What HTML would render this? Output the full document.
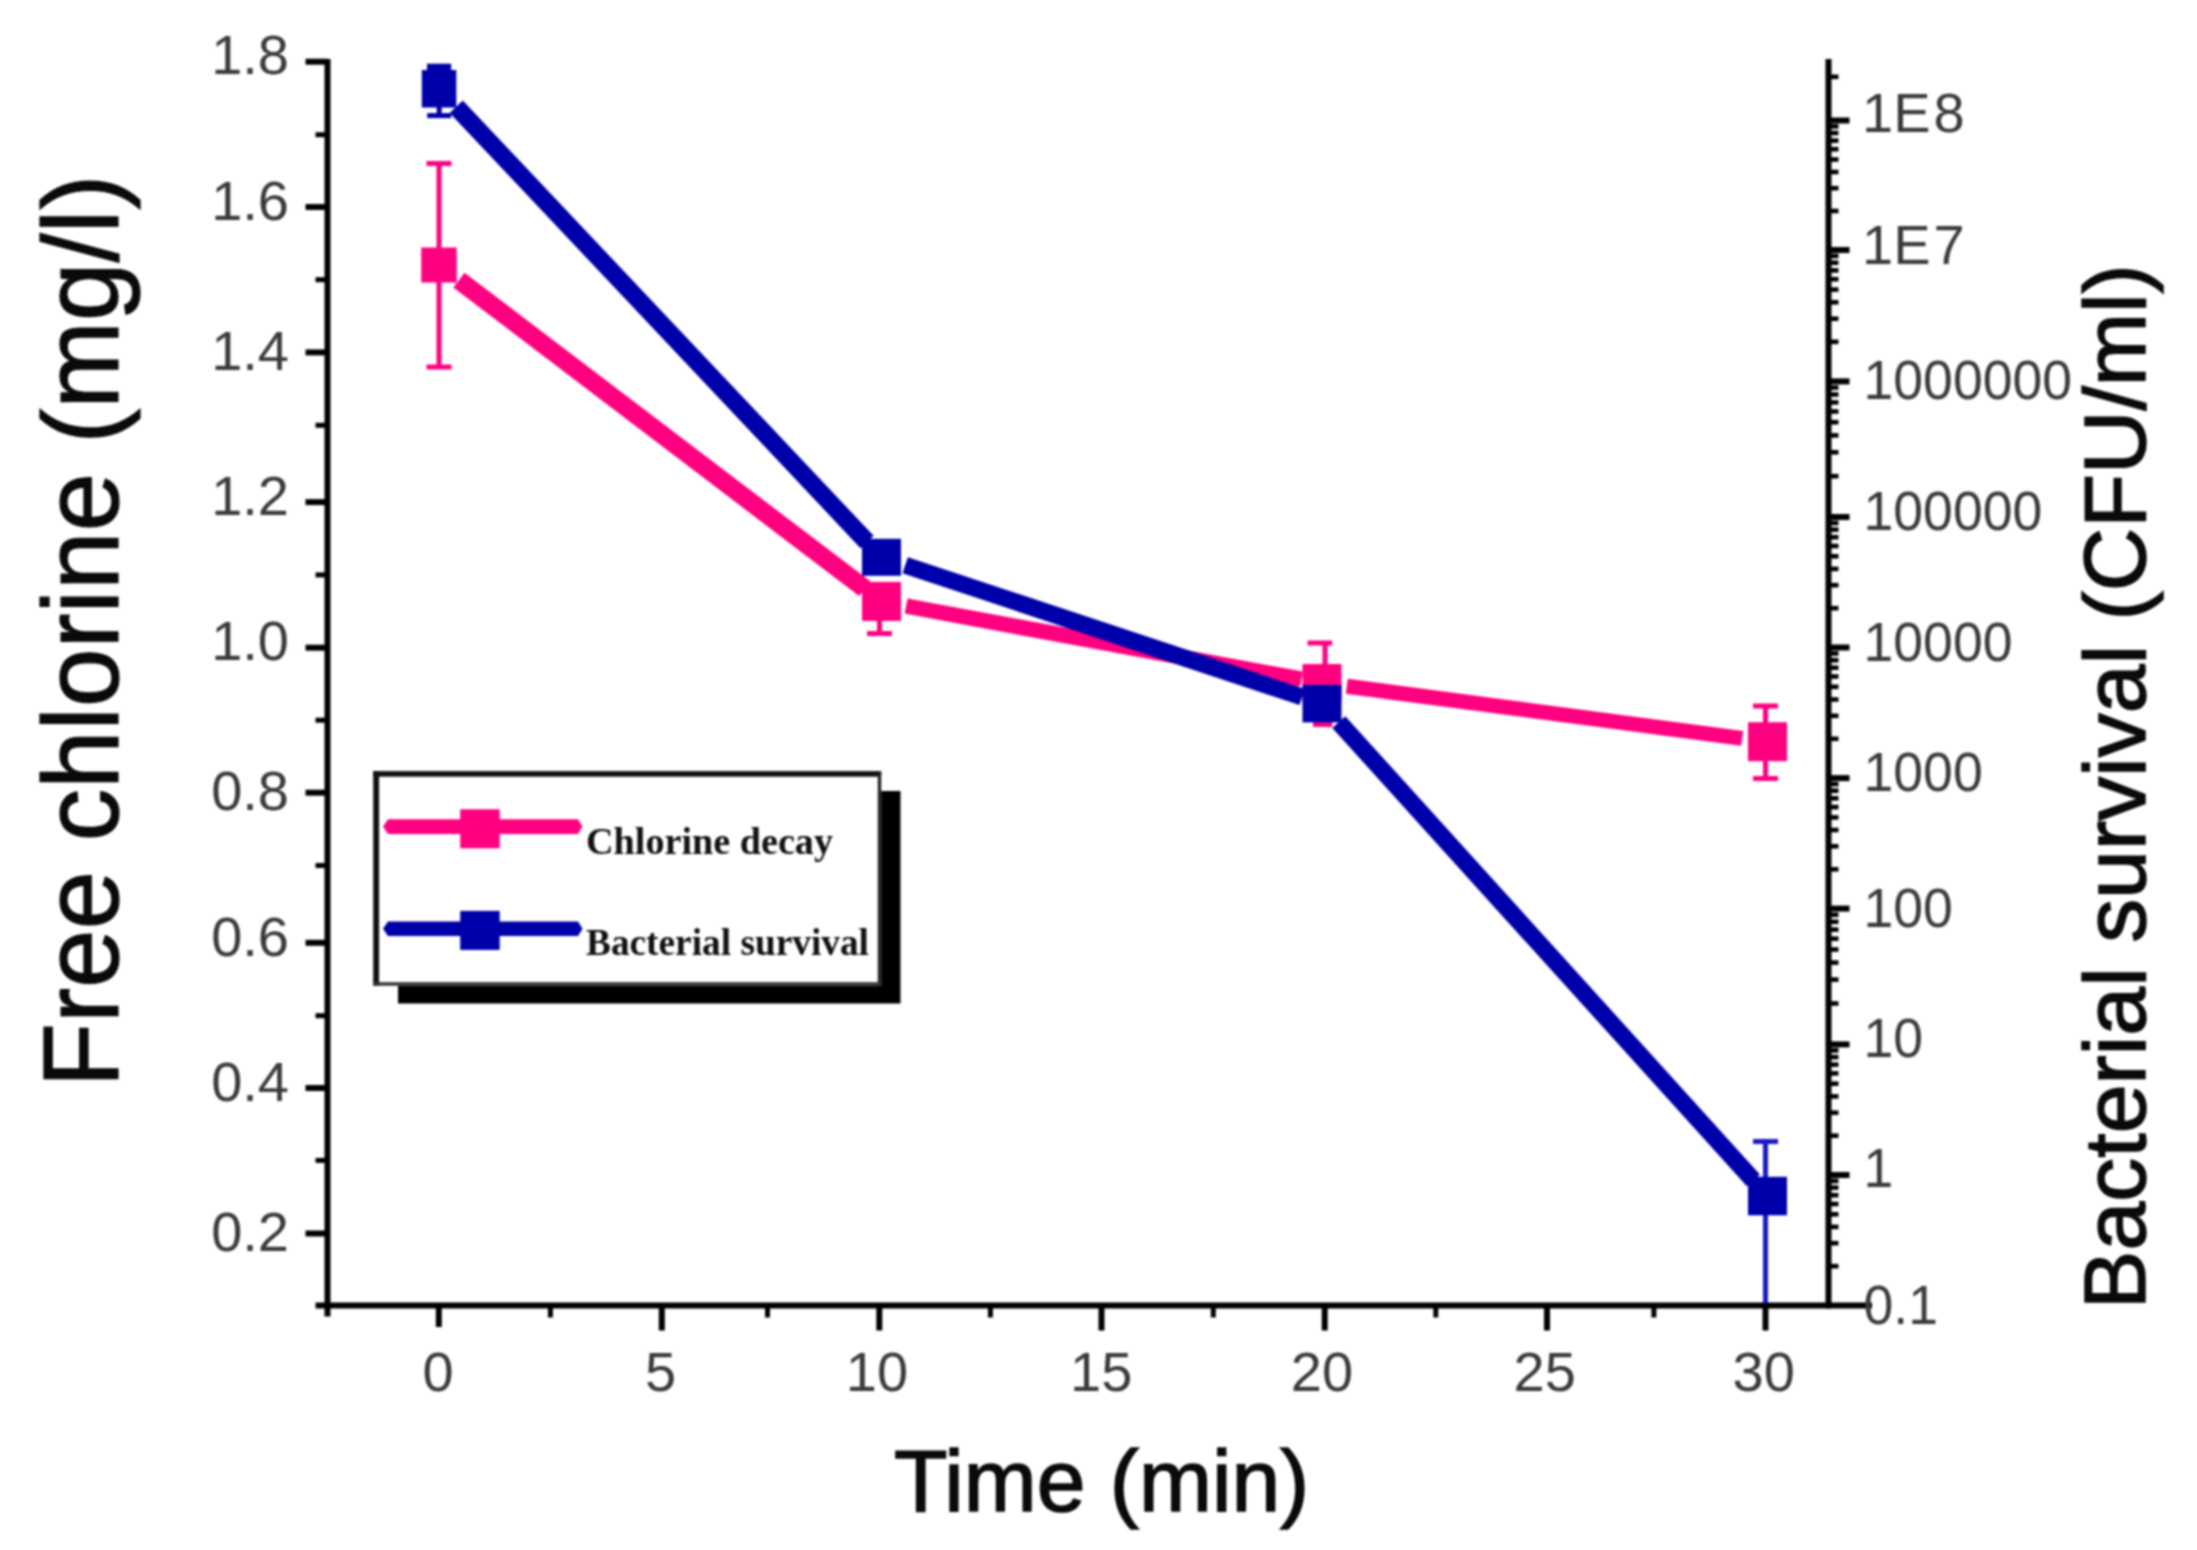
<!DOCTYPE html>
<html lang="en"><head><meta charset="utf-8"><title>Free chlorine decay and bacterial survival</title>
<style>
html,body{margin:0;padding:0;background:#fff;}
body{width:2197px;height:1550px;overflow:hidden;}
svg{display:block;filter:blur(1px);}
text{font-family:"Liberation Sans",sans-serif;}
.tl{font-size:56px;fill:#3a3a3a;}
.leg{font-family:"Liberation Serif",serif;font-weight:bold;font-size:38px;fill:#111;}
</style></head><body>
<svg width="2197" height="1550" viewBox="0 0 2197 1550">
<rect width="2197" height="1550" fill="#fff"/>

<g stroke="#000" stroke-width="6" fill="none" stroke-linecap="butt">
<line x1="327.5" y1="59" x2="327.5" y2="1316.5"/>
<line x1="1828.5" y1="59" x2="1828.5" y2="1308.5"/>
<line x1="315.5" y1="1305.5" x2="1872" y2="1305.5"/>
</g>
<g stroke="#000" fill="none">
<line x1="305.5" y1="61.7" x2="327.5" y2="61.7" stroke-width="6"/>
<line x1="305.5" y1="207.0" x2="327.5" y2="207.0" stroke-width="6"/>
<line x1="305.5" y1="352.4" x2="327.5" y2="352.4" stroke-width="6"/>
<line x1="305.5" y1="502.1" x2="327.5" y2="502.1" stroke-width="6"/>
<line x1="305.5" y1="647.7" x2="327.5" y2="647.7" stroke-width="6"/>
<line x1="305.5" y1="792.7" x2="327.5" y2="792.7" stroke-width="6"/>
<line x1="305.5" y1="942.8" x2="327.5" y2="942.8" stroke-width="6"/>
<line x1="305.5" y1="1088.0" x2="327.5" y2="1088.0" stroke-width="6"/>
<line x1="305.5" y1="1233.5" x2="327.5" y2="1233.5" stroke-width="6"/>
<line x1="315.5" y1="134.7" x2="327.5" y2="134.7" stroke-width="5"/>
<line x1="315.5" y1="279.7" x2="327.5" y2="279.7" stroke-width="5"/>
<line x1="315.5" y1="425.3" x2="327.5" y2="425.3" stroke-width="5"/>
<line x1="315.5" y1="574.9" x2="327.5" y2="574.9" stroke-width="5"/>
<line x1="315.5" y1="720.2" x2="327.5" y2="720.2" stroke-width="5"/>
<line x1="315.5" y1="865.5" x2="327.5" y2="865.5" stroke-width="5"/>
<line x1="315.5" y1="1015.7" x2="327.5" y2="1015.7" stroke-width="5"/>
<line x1="315.5" y1="1160.4" x2="327.5" y2="1160.4" stroke-width="5"/>
<line x1="438.8" y1="1305.5" x2="438.8" y2="1327.0" stroke-width="6"/>
<line x1="661.8" y1="1305.5" x2="661.8" y2="1330.5" stroke-width="6"/>
<line x1="879.3" y1="1305.5" x2="879.3" y2="1330.5" stroke-width="6"/>
<line x1="1101.5" y1="1305.5" x2="1101.5" y2="1330.5" stroke-width="6"/>
<line x1="1324.7" y1="1305.5" x2="1324.7" y2="1330.5" stroke-width="6"/>
<line x1="1547.0" y1="1305.5" x2="1547.0" y2="1330.5" stroke-width="6"/>
<line x1="1765.5" y1="1305.5" x2="1765.5" y2="1330.5" stroke-width="6"/>
<line x1="550.4" y1="1305.5" x2="550.4" y2="1317.5" stroke-width="5"/>
<line x1="767.5" y1="1305.5" x2="767.5" y2="1317.5" stroke-width="5"/>
<line x1="990.4" y1="1305.5" x2="990.4" y2="1317.5" stroke-width="5"/>
<line x1="1213.3" y1="1305.5" x2="1213.3" y2="1317.5" stroke-width="5"/>
<line x1="1435.8" y1="1305.5" x2="1435.8" y2="1317.5" stroke-width="5"/>
<line x1="1653.9" y1="1305.5" x2="1653.9" y2="1317.5" stroke-width="5"/>
<line x1="1828.5" y1="1175.0" x2="1849.5" y2="1175.0" stroke-width="6"/>
<line x1="1828.5" y1="1044.4" x2="1849.5" y2="1044.4" stroke-width="6"/>
<line x1="1828.5" y1="908.6" x2="1849.5" y2="908.6" stroke-width="6"/>
<line x1="1828.5" y1="778.1" x2="1849.5" y2="778.1" stroke-width="6"/>
<line x1="1828.5" y1="647.5" x2="1849.5" y2="647.5" stroke-width="6"/>
<line x1="1828.5" y1="517.0" x2="1849.5" y2="517.0" stroke-width="6"/>
<line x1="1828.5" y1="381.4" x2="1849.5" y2="381.4" stroke-width="6"/>
<line x1="1828.5" y1="250.0" x2="1849.5" y2="250.0" stroke-width="6"/>
<line x1="1828.5" y1="120.5" x2="1849.5" y2="120.5" stroke-width="6"/>
<line x1="1828.5" y1="1266.2" x2="1838.5" y2="1266.2" stroke-width="4.6"/>
<line x1="1828.5" y1="1243.2" x2="1838.5" y2="1243.2" stroke-width="4.6"/>
<line x1="1828.5" y1="1226.9" x2="1838.5" y2="1226.9" stroke-width="4.6"/>
<line x1="1828.5" y1="1214.3" x2="1838.5" y2="1214.3" stroke-width="4.6"/>
<line x1="1828.5" y1="1204.0" x2="1838.5" y2="1204.0" stroke-width="4.6"/>
<line x1="1828.5" y1="1195.2" x2="1838.5" y2="1195.2" stroke-width="4.6"/>
<line x1="1828.5" y1="1187.6" x2="1838.5" y2="1187.6" stroke-width="4.6"/>
<line x1="1828.5" y1="1181.0" x2="1838.5" y2="1181.0" stroke-width="4.6"/>
<line x1="1828.5" y1="1135.7" x2="1838.5" y2="1135.7" stroke-width="4.6"/>
<line x1="1828.5" y1="1112.7" x2="1838.5" y2="1112.7" stroke-width="4.6"/>
<line x1="1828.5" y1="1096.4" x2="1838.5" y2="1096.4" stroke-width="4.6"/>
<line x1="1828.5" y1="1083.7" x2="1838.5" y2="1083.7" stroke-width="4.6"/>
<line x1="1828.5" y1="1073.4" x2="1838.5" y2="1073.4" stroke-width="4.6"/>
<line x1="1828.5" y1="1064.6" x2="1838.5" y2="1064.6" stroke-width="4.6"/>
<line x1="1828.5" y1="1057.1" x2="1838.5" y2="1057.1" stroke-width="4.6"/>
<line x1="1828.5" y1="1050.4" x2="1838.5" y2="1050.4" stroke-width="4.6"/>
<line x1="1828.5" y1="1003.5" x2="1838.5" y2="1003.5" stroke-width="4.6"/>
<line x1="1828.5" y1="979.6" x2="1838.5" y2="979.6" stroke-width="4.6"/>
<line x1="1828.5" y1="962.6" x2="1838.5" y2="962.6" stroke-width="4.6"/>
<line x1="1828.5" y1="949.5" x2="1838.5" y2="949.5" stroke-width="4.6"/>
<line x1="1828.5" y1="938.7" x2="1838.5" y2="938.7" stroke-width="4.6"/>
<line x1="1828.5" y1="929.6" x2="1838.5" y2="929.6" stroke-width="4.6"/>
<line x1="1828.5" y1="921.8" x2="1838.5" y2="921.8" stroke-width="4.6"/>
<line x1="1828.5" y1="914.8" x2="1838.5" y2="914.8" stroke-width="4.6"/>
<line x1="1828.5" y1="869.3" x2="1838.5" y2="869.3" stroke-width="4.6"/>
<line x1="1828.5" y1="846.3" x2="1838.5" y2="846.3" stroke-width="4.6"/>
<line x1="1828.5" y1="830.0" x2="1838.5" y2="830.0" stroke-width="4.6"/>
<line x1="1828.5" y1="817.4" x2="1838.5" y2="817.4" stroke-width="4.6"/>
<line x1="1828.5" y1="807.1" x2="1838.5" y2="807.1" stroke-width="4.6"/>
<line x1="1828.5" y1="798.3" x2="1838.5" y2="798.3" stroke-width="4.6"/>
<line x1="1828.5" y1="790.7" x2="1838.5" y2="790.7" stroke-width="4.6"/>
<line x1="1828.5" y1="784.1" x2="1838.5" y2="784.1" stroke-width="4.6"/>
<line x1="1828.5" y1="738.8" x2="1838.5" y2="738.8" stroke-width="4.6"/>
<line x1="1828.5" y1="715.8" x2="1838.5" y2="715.8" stroke-width="4.6"/>
<line x1="1828.5" y1="699.5" x2="1838.5" y2="699.5" stroke-width="4.6"/>
<line x1="1828.5" y1="686.8" x2="1838.5" y2="686.8" stroke-width="4.6"/>
<line x1="1828.5" y1="676.5" x2="1838.5" y2="676.5" stroke-width="4.6"/>
<line x1="1828.5" y1="667.7" x2="1838.5" y2="667.7" stroke-width="4.6"/>
<line x1="1828.5" y1="660.2" x2="1838.5" y2="660.2" stroke-width="4.6"/>
<line x1="1828.5" y1="653.5" x2="1838.5" y2="653.5" stroke-width="4.6"/>
<line x1="1828.5" y1="608.2" x2="1838.5" y2="608.2" stroke-width="4.6"/>
<line x1="1828.5" y1="585.2" x2="1838.5" y2="585.2" stroke-width="4.6"/>
<line x1="1828.5" y1="568.9" x2="1838.5" y2="568.9" stroke-width="4.6"/>
<line x1="1828.5" y1="556.3" x2="1838.5" y2="556.3" stroke-width="4.6"/>
<line x1="1828.5" y1="546.0" x2="1838.5" y2="546.0" stroke-width="4.6"/>
<line x1="1828.5" y1="537.2" x2="1838.5" y2="537.2" stroke-width="4.6"/>
<line x1="1828.5" y1="529.6" x2="1838.5" y2="529.6" stroke-width="4.6"/>
<line x1="1828.5" y1="523.0" x2="1838.5" y2="523.0" stroke-width="4.6"/>
<line x1="1828.5" y1="476.2" x2="1838.5" y2="476.2" stroke-width="4.6"/>
<line x1="1828.5" y1="452.3" x2="1838.5" y2="452.3" stroke-width="4.6"/>
<line x1="1828.5" y1="435.4" x2="1838.5" y2="435.4" stroke-width="4.6"/>
<line x1="1828.5" y1="422.2" x2="1838.5" y2="422.2" stroke-width="4.6"/>
<line x1="1828.5" y1="411.5" x2="1838.5" y2="411.5" stroke-width="4.6"/>
<line x1="1828.5" y1="402.4" x2="1838.5" y2="402.4" stroke-width="4.6"/>
<line x1="1828.5" y1="394.5" x2="1838.5" y2="394.5" stroke-width="4.6"/>
<line x1="1828.5" y1="387.6" x2="1838.5" y2="387.6" stroke-width="4.6"/>
<line x1="1828.5" y1="341.8" x2="1838.5" y2="341.8" stroke-width="4.6"/>
<line x1="1828.5" y1="318.7" x2="1838.5" y2="318.7" stroke-width="4.6"/>
<line x1="1828.5" y1="302.3" x2="1838.5" y2="302.3" stroke-width="4.6"/>
<line x1="1828.5" y1="289.6" x2="1838.5" y2="289.6" stroke-width="4.6"/>
<line x1="1828.5" y1="279.2" x2="1838.5" y2="279.2" stroke-width="4.6"/>
<line x1="1828.5" y1="270.4" x2="1838.5" y2="270.4" stroke-width="4.6"/>
<line x1="1828.5" y1="262.7" x2="1838.5" y2="262.7" stroke-width="4.6"/>
<line x1="1828.5" y1="256.0" x2="1838.5" y2="256.0" stroke-width="4.6"/>
<line x1="1828.5" y1="211.0" x2="1838.5" y2="211.0" stroke-width="4.6"/>
<line x1="1828.5" y1="188.2" x2="1838.5" y2="188.2" stroke-width="4.6"/>
<line x1="1828.5" y1="172.0" x2="1838.5" y2="172.0" stroke-width="4.6"/>
<line x1="1828.5" y1="159.5" x2="1838.5" y2="159.5" stroke-width="4.6"/>
<line x1="1828.5" y1="149.2" x2="1838.5" y2="149.2" stroke-width="4.6"/>
<line x1="1828.5" y1="140.6" x2="1838.5" y2="140.6" stroke-width="4.6"/>
<line x1="1828.5" y1="133.0" x2="1838.5" y2="133.0" stroke-width="4.6"/>
<line x1="1828.5" y1="126.4" x2="1838.5" y2="126.4" stroke-width="4.6"/>
<line x1="1828.5" y1="76.8" x2="1838.5" y2="76.8" stroke-width="4.6"/>
</g>
<g class="tl">
<text x="289" y="74.1" text-anchor="end">1.8</text>
<text x="289" y="219.8" text-anchor="end">1.6</text>
<text x="289" y="369.6" text-anchor="end">1.4</text>
<text x="289" y="515.3" text-anchor="end">1.2</text>
<text x="289" y="660.0" text-anchor="end">1.0</text>
<text x="289" y="810.2" text-anchor="end">0.8</text>
<text x="289" y="956.0" text-anchor="end">0.6</text>
<text x="289" y="1100.7" text-anchor="end">0.4</text>
<text x="289" y="1250.5" text-anchor="end">0.2</text>
<text x="438.0" y="1391" text-anchor="middle">0</text>
<text x="660.6" y="1391" text-anchor="middle">5</text>
<text x="877.0" y="1391" text-anchor="middle">10</text>
<text x="1101.2" y="1391" text-anchor="middle">15</text>
<text x="1322.0" y="1391" text-anchor="middle">20</text>
<text x="1544.7" y="1391" text-anchor="middle">25</text>
<text x="1763.7" y="1391" text-anchor="middle">30</text>
<text x="1862" y="132.2">1E<tspan dx="3">8</tspan></text>
<text x="1862" y="263.5">1E<tspan dx="3">7</tspan></text>
<text transform="translate(1863.5,398.7) scale(0.957,1)">1000000</text>
<text transform="translate(1863.5,529.5) scale(0.957,1)">100000</text>
<text transform="translate(1863.5,660.5) scale(0.957,1)">10000</text>
<text transform="translate(1863.5,790.5) scale(0.957,1)">1000</text>
<text transform="translate(1863.5,926.5) scale(0.957,1)">100</text>
<text transform="translate(1863.5,1057.1) scale(0.957,1)">10</text>
<text transform="translate(1863.5,1186.5) scale(0.957,1)">1</text>
<text transform="translate(1863.5,1323.5) scale(0.957,1)">0.1</text>
</g>
<text x="1101.7" y="1511.2" text-anchor="middle" font-size="87.6" fill="#0a0a0a" stroke="#0a0a0a" stroke-width="1.6">Time (min)</text>
<text transform="translate(118,631) rotate(-90) scale(0.984,1)" text-anchor="middle" font-size="107" fill="#0a0a0a" stroke="#0a0a0a" stroke-width="1.2">Free chlorine (mg/l)</text>
<text transform="translate(2145.3,786.7) rotate(-90)" text-anchor="middle" font-size="87.9" fill="#0a0a0a" stroke="#0a0a0a" stroke-width="1.5">Bacterial survival (CFU/ml)</text>
<g stroke="#ff0080" stroke-width="5" fill="none"><line x1="439" y1="163.5" x2="439" y2="367"/><line x1="426.5" y1="163.5" x2="451.5" y2="163.5"/><line x1="426.5" y1="367" x2="451.5" y2="367"/></g>
<g stroke="#ff0080" stroke-width="5" fill="none"><line x1="879.5" y1="590" x2="879.5" y2="633.5"/><line x1="867.0" y1="590" x2="892.0" y2="590"/><line x1="867.0" y1="633.5" x2="892.0" y2="633.5"/></g>
<g stroke="#ff0080" stroke-width="5" fill="none"><line x1="1325" y1="643" x2="1325" y2="724.5"/><line x1="1307.5" y1="643" x2="1332.2" y2="643"/><line x1="1313" y1="724.5" x2="1332.2" y2="724.5"/></g>
<g stroke="#ff0080" stroke-width="5" fill="none"><line x1="1765.5" y1="706" x2="1765.5" y2="778.5"/><line x1="1753.0" y1="706" x2="1778.0" y2="706"/><line x1="1753.0" y1="778.5" x2="1778.0" y2="778.5"/></g>
<line x1="458.9" y1="280.1" x2="864.8" y2="588.7" stroke="#ff0080" stroke-width="18.5"/>
<line x1="906.1" y1="606.0" x2="1301.4" y2="679.2" stroke="#ff0080" stroke-width="15.5"/>
<line x1="1346.8" y1="686.3" x2="1742.2" y2="738.4" stroke="#ff0080" stroke-width="15"/>
<rect x="421.2" y="247.5" width="35.5" height="35" fill="#ff0080"/>
<rect x="862.0" y="581.9" width="39" height="39" fill="#ff0080"/>
<rect x="1302.5" y="664.0" width="39" height="38" fill="#ff0080"/>
<rect x="1748.0" y="722.2" width="39" height="39" fill="#ff0080"/>
<g stroke="#0000aa" stroke-width="5" fill="none"><line x1="439.2" y1="66.5" x2="439.2" y2="115.6"/><line x1="427.2" y1="66.5" x2="451.2" y2="66.5"/><line x1="427.2" y1="115.6" x2="451.2" y2="115.6"/></g>
<g stroke="#1a1ac4" stroke-width="5" fill="none"><line x1="1765.5" y1="1141.5" x2="1765.5" y2="1303"/><line x1="1753.0" y1="1141.5" x2="1778.0" y2="1141.5"/></g>
<line x1="456.2" y1="106.7" x2="867.1" y2="542.0" stroke="#0000aa" stroke-width="18"/>
<line x1="905.2" y1="565.2" x2="1302.1" y2="697.0" stroke="#0000aa" stroke-width="17"/>
<line x1="1338.8" y1="722.1" x2="1753.4" y2="1180.4" stroke="#0000aa" stroke-width="17.5"/>
<rect x="421.8" y="70.0" width="34.5" height="37.5" fill="#0000aa"/>
<rect x="862.0" y="538.8" width="39" height="37" fill="#0000aa"/>
<rect x="1302.5" y="684.9" width="39" height="37.5" fill="#0000aa"/>
<rect x="1748.0" y="1176.8" width="39" height="38.5" fill="#0000aa"/>
<rect x="427" y="63.7" width="24" height="8" fill="#0000aa"/>
<rect x="398" y="791" width="502.5" height="212.5" fill="#000"/>
<rect x="373.2" y="771.1" width="508" height="214.6" fill="#fff"/>
<rect x="373.2" y="771.1" width="508" height="5.6" fill="#111"/>
<rect x="373.2" y="771.1" width="5.9" height="214.6" fill="#111"/>
<rect x="877.8" y="771.1" width="3.4" height="214.6" fill="#222"/>
<rect x="373.2" y="982.2" width="508" height="3.5" fill="#333"/>
<polygon points="383,826.6 388,819.3000000000001 578,819.3000000000001 582.5,826.6 578,833.9 388,833.9" fill="#ff0080"/>
<rect x="460.2" y="809.3" width="39.5" height="39" fill="#ff0080"/>
<polygon points="383,928.7 388,921.4000000000001 578,921.4000000000001 582.5,928.7 578,936.0 388,936.0" fill="#0000aa"/>
<rect x="460.2" y="910.9" width="39.5" height="39" fill="#0000aa"/>
<text class="leg" x="586" y="853.7" textLength="247" lengthAdjust="spacingAndGlyphs">Chlorine decay</text>
<text class="leg" x="586" y="954.6" textLength="283" lengthAdjust="spacingAndGlyphs">Bacterial survival</text>
</svg></body></html>
